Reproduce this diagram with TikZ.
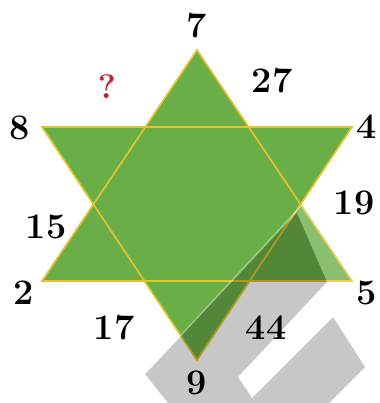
\documentclass[tikz,border=0pt]{standalone}
\usepackage{fontspec}
\usetikzlibrary{positioning}
\definecolor{stargreen}{RGB}{106,174,72}
\definecolor{staredge}{RGB}{228,196,44}
\definecolor{qred}{RGB}{200,30,45}
\tikzstyle{num} = [font=\fontsize{36}{40}\selectfont\bfseries, inner sep=0pt]
\tikzstyle{qmark} = [font=\fontsize{34}{38}\selectfont\bfseries, text=qred, inner sep=0pt]
\tikzstyle{tri} = [fill=stargreen]
\tikzstyle{edge} = [draw=staredge, line width=1.7pt, line join=miter]
\tikzstyle{wgray} = [fill=black, opacity=0.22]
\tikzstyle{wwhite} = [fill=white, opacity=0.22]

\begin{document}
\begin{tikzpicture}[x=1pt, y=-1pt]
    \useasboundingbox (0,0) rectangle (379,403);

    % corners of the star
    \coordinate (top) at (197,50);
    \coordinate (bot) at (197,360);
    \coordinate (ul) at (42,127);
    \coordinate (ur) at (352,127);
    \coordinate (ll) at (42,281);
    \coordinate (lr) at (352,281);

    \fill [tri] (top) -- (lr) -- (ll) -- cycle;
    \fill [tri] (ul) -- (ur) -- (bot) -- cycle;
    \draw [edge] (top) -- (lr) -- (ll) -- cycle;
    \draw [edge] (ul) -- (ur) -- (bot) -- cycle;

    % watermark stripes
    \fill [wgray] (297,213) -- (327,282) -- (238,377) -- (252,398) -- (333,317) -- (365,367)
        -- (329,403) -- (168,403) -- (145,374) -- cycle;
    \fill [wwhite] (238,377) -- (327,282) -- (297,213) -- (303,203) -- (379,203) -- (379,271)
        -- (252,398) -- cycle;
    \draw [white, opacity=0.35, line width=1.5pt] (301,206) -- (145,374);

    % numbers at the corners
    \node (ntop) [num] at (197,26) {7};
    \node (nur) [num] at (367,127) {4};
    \node (nlr) [num] at (367,293) {5};
    \node (nbot) [num] at (197,383) {9};
    \node (nll) [num] at (24,293) {2};
    \node (nul) [num] at (20,128) {8};

    % numbers on the sides
    \node (sa) [num] at (272,81) {27};
    \node (sb) [num] at (354,203) {19};
    \node (sc) [num] at (266,328) {44};
    \node (sd) [num] at (114,328) {17};
    \node (se) [num] at (46,227) {15};
    \node (sf) [qmark] at (107,87) {?};
\end{tikzpicture}
\end{document}
